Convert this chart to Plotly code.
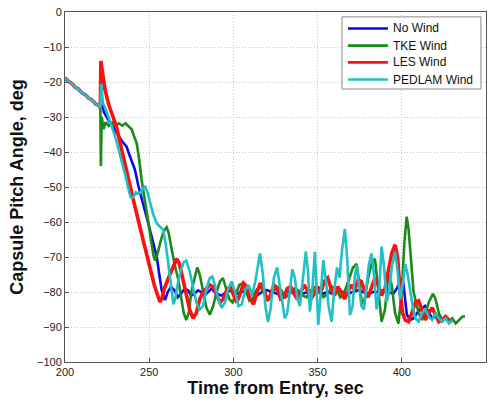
import plotly.graph_objects as go

# Shared entry segment (all four runs coincide before the winds diverge)
entry_t = [200, 202, 204, 206, 208, 210, 212, 214, 216, 218, 220, 221]
entry_a = [-18.8, -19.8, -20.4, -21.5, -22.0, -23.1, -23.6, -24.6, -25.1, -26.2, -26.7, -27.3]

# No Wind
nowind_t = [222, 223, 226, 229.7, 232, 234, 236.6, 238, 240, 241.5, 243.5, 245, 247, 249, 250.5,
            252, 254.5, 256, 257.4, 259.4, 261, 263, 265, 267, 269, 271, 273, 275, 277, 279, 281,
            283, 285, 287, 290, 293, 296, 299, 302, 305, 308, 311, 314, 317, 320, 323, 326, 329,
            332, 335, 338, 341, 344, 347, 350, 353, 356, 359, 362, 365, 368, 371, 374, 377, 380,
            383, 386, 389, 392, 395, 397, 399, 400.5, 401.5, 403, 405, 407, 409, 411, 413.8, 416,
            418, 420, 422, 424, 426, 428, 430]
nowind_a = [-25, -28.5, -31, -34, -35.5, -37, -38.5, -40.5, -43, -45, -49.5, -52.5, -56, -59.5, -62.3,
            -65.5, -70, -75, -79.4, -82.3, -80, -78.5, -79.5, -81.5, -80.5, -79, -79.5, -81, -80.5,
            -79.5, -80, -81, -80, -79, -80.5, -81, -80, -79.5, -80.5, -80, -79.5, -80.5, -81, -80,
            -79.5, -80, -80.5, -81, -80, -79.5, -80, -80.5, -80, -79.5, -80, -80.5, -80, -80.5,
            -79.5, -80, -80.5, -80, -79.5, -80, -80.5, -80, -80, -79.5, -80, -80.5, -79, -77.5,
            -76, -80, -86.5, -88, -87.5, -86, -85, -84, -86, -87.5, -87, -86.5, -88, -87.5, -88,
            -88.5]

# TKE Wind
tke_t = [221.3, 221.8, 223, 224, 226, 228, 230, 232, 234, 236, 238, 239.6, 241, 242.6, 244, 245.5,
         247.5, 249.5, 251, 252.5, 253.5, 255, 256.5, 258, 259.5, 260.4, 261.5, 263, 265, 267.3,
         269, 270.5, 272, 273.5, 275, 277, 278.5, 280, 282, 284, 286, 288, 290, 292, 293.8, 295.5,
         297.5, 299.5, 301.5, 303.5, 305.5, 307.5, 309.5, 311.5, 313.5, 316, 318.5, 321, 323.5,
         326, 328.5, 331, 333.5, 336, 338.5, 341, 343.5, 346, 348.5, 351, 353.5, 356, 358.5, 361,
         363.5, 366, 368.5, 371, 373.2, 375, 376.5, 378, 380, 382, 384, 386, 388, 390, 392, 394,
         396, 398, 400, 401.5, 402.9, 404, 405.5, 407, 408.5, 410, 412, 414, 416, 418.5, 420, 422,
         424, 426, 428, 430, 432, 434, 436, 437.5]
tke_a = [-44, -30, -33.5, -31.5, -32.5, -31.5, -32.5, -31.8, -32.5, -31.8, -32.8, -33.5, -35.5,
         -37.5, -42, -48, -54, -60.4, -65, -69.5, -71, -69, -66, -63.5, -62, -61.5, -63, -67, -72,
         -76.5, -82, -86, -88, -86, -80, -75.5, -73, -75, -80, -84.5, -86.5, -84, -80, -77, -76,
         -78.5, -82, -83, -80.5, -78, -77.5, -80, -82.5, -82, -79.5, -78.5, -80.5, -82, -80, -78.5,
         -79.5, -81.5, -80.5, -79, -79.5, -81, -81.5, -79.5, -78.5, -80, -81.5, -80.5, -78.5, -79,
         -81.5, -80, -76.5, -73, -72, -78, -83.5, -82, -76, -72, -70.5, -79, -88.5, -85, -75, -78,
         -86, -89, -80, -66, -58.5, -62, -72, -80, -83, -86, -88, -86, -83, -80.5, -82, -86, -88,
         -87, -88.5, -87.5, -89, -88, -87, -87]

# LES Wind
les_t = [221.3, 222, 222.6, 223.8, 226, 228, 230.7, 233, 235.5, 238.6, 241, 243.5, 246, 248.5,
         251, 253, 255.4, 256.4, 257.5, 259, 261, 263.3, 265, 266.3, 268, 270, 272, 274, 276, 278,
         280, 282, 284, 286, 288, 290, 292, 294, 296, 298, 300, 302, 304, 306, 308, 310, 312, 314,
         316, 318, 320, 322, 324, 326, 328, 330, 332, 334, 336, 338, 340, 342, 344, 346, 348, 350,
         352, 354, 356, 358, 360, 362, 364, 366, 368, 370, 372, 374, 376, 378, 380, 382, 384, 386,
         388, 390, 392, 394, 396, 397.5, 399, 400.5, 402, 404, 406, 408, 410, 412, 414, 416, 418,
         420, 422, 424, 426, 428, 430]
les_a = [-14, -16, -18.5, -22.3, -26.5, -29.5, -33, -38, -43.5, -50, -54.5, -59.5, -64.5, -69.5,
         -74, -78, -81.5, -82.8, -82, -79, -76.5, -73.7, -71.5, -70.5, -72, -76, -81, -85, -87.5,
         -86, -82, -80, -79, -78, -78.5, -81, -83, -82, -79.5, -78.5, -81, -83, -80.5, -77.5,
         -78.5, -82, -83.5, -80, -77.5, -79, -82.5, -81, -78, -79, -82, -81.5, -79, -78.5, -80.5,
         -82, -80, -78, -79.5, -82, -80.5, -78.5, -80, -77, -76, -79, -81, -78.5, -80, -82, -80,
         -78, -79.5, -76.5, -77, -80, -81.5, -79, -76, -78, -81, -79, -74, -69, -66.5, -70, -80,
         -86, -88, -88.5, -86, -83, -82.5, -85, -88, -86, -84.5, -86.5, -88.5, -88, -87, -88,
         -88.5]

# PEDLAM Wind
pedlam_t = [221.5, 222.5, 224, 226, 228, 230, 232, 234, 236, 237.6, 239, 240.6, 242, 244, 246,
            247.5, 249, 251, 252.5, 254.5, 256.5, 258.4, 260, 261.5, 262.4, 263.5, 264.3, 265.5,
            267, 269, 270.5, 272, 274, 276, 278, 280, 282, 284, 286, 287.5, 289, 291, 293, 295,
            297, 299, 301, 303, 305, 307, 309, 311, 313, 315.8, 317.5, 319, 320.5, 322, 324,
            325.9, 327.5, 329, 330.5, 332, 333.5, 335, 336.5, 338, 339.5, 341, 343, 344.3, 345.4,
            346.8, 348.4, 349.3, 350.4, 351.8, 353.4, 355, 356.5, 358.3, 359.8, 361.5, 363, 364.5,
            366.2, 367.5, 369.2, 370.8, 372, 373.2, 374.5, 376, 377.5, 379, 380.5, 382, 383.5,
            385, 386.5, 388, 389.5, 391, 392.5, 394, 396, 397.5, 399, 400.5, 402, 403.5, 405,
            406.8, 408, 410, 412, 414, 416, 418, 420, 422, 424, 426, 428, 430]
pedlam_a = [-20.5, -26, -27.5, -30, -33, -36, -39.5, -43, -47, -50.5, -53, -53, -51.5, -52, -50.5,
            -49.7, -51.5, -55, -58, -60.4, -61.5, -62.3, -67, -72, -75.6, -80, -83.5, -82, -77.5,
            -73.5, -71.5, -71, -74, -79, -83, -85, -84, -79, -76, -75.6, -78, -82, -84.5, -83,
            -79, -77, -80, -84, -83.5, -79.5, -78, -81, -77, -69, -75, -84, -88.6, -85, -76, -73,
            -78, -84, -87.5, -86, -79, -73.5, -76, -82, -84, -78, -68.5, -74, -85.6, -80, -68.5,
            -78, -89.4, -81, -70.9, -77, -84, -88.5, -80, -73, -76, -68, -62, -70, -86.6, -84,
            -76, -72.3, -78, -84, -85, -78, -72, -69, -75, -85, -80, -67, -73, -82.8, -80, -73,
            -68.5, -74, -82, -78, -72, -75, -80, -85, -87.5, -88.5, -86, -85, -87, -88, -86,
            -87.5, -88.5, -87.5, -89, -88]

series = [
    ("No Wind", nowind_t, nowind_a, "#0a0af0", 2.6),
    ("TKE Wind", tke_t, tke_a, "#1a8a1a", 2.6),
    ("LES Wind", les_t, les_a, "#ff1010", 3.6),
    ("PEDLAM Wind", pedlam_t, pedlam_a, "#22c0c6", 2.6),
]

fig = go.Figure()
for name, t, a, color, width in series:
    fig.add_trace(go.Scatter(
        x=entry_t + t, y=entry_a + a, mode="lines", name=name,
        line=dict(color=color, width=width), showlegend=False,
    ))

font_family = "Liberation Sans, Arial, sans-serif"

# Compact boxed legend in the upper-right corner of the axes (paper coordinates)
box_x0, box_x1, box_y0, box_y1 = 0.658, 0.988, 0.780, 0.986
row_y = [0.953, 0.904, 0.856, 0.807]
fig.add_shape(type="rect", xref="paper", yref="paper",
              x0=box_x0, x1=box_x1, y0=box_y0, y1=box_y1,
              line=dict(color="#888888", width=1), fillcolor="white", layer="above")
for (name, _, _, color, _), yy in zip(series, row_y):
    fig.add_shape(type="line", xref="paper", yref="paper",
                  x0=0.672, x1=0.767, y0=yy, y1=yy,
                  line=dict(color=color, width=2.6), layer="above")
    fig.add_annotation(xref="paper", yref="paper", x=0.774, y=yy, text=name,
                       showarrow=False, xanchor="left", yanchor="middle",
                       font=dict(family=font_family, size=12, color="#111111"))

axis_common = dict(
    showline=True, mirror=True, linecolor="#555555", linewidth=1,
    ticks="inside", ticklen=4, tickcolor="#555555",
    showgrid=True, gridcolor="#c4c4c4", griddash="1px,2px", gridwidth=1,
    zeroline=False, automargin=False,
    tickfont=dict(family=font_family, size=11, color="#222222"),
)

fig.update_layout(
    width=495, height=408,
    margin=dict(l=65, r=9, t=12, b=46),
    paper_bgcolor="white", plot_bgcolor="white",
    font=dict(family=font_family, color="#111111"),
    xaxis=dict(
        range=[200, 450], tickvals=[200, 250, 300, 350, 400, 450],
        title=dict(text="<b>Time from Entry, sec</b>", standoff=4,
                   font=dict(family=font_family, size=18, color="#111111")),
        **axis_common,
    ),
    yaxis=dict(
        range=[-100, 0], tickvals=list(range(-100, 1, 10)),
        title=dict(text="<b>Capsule Pitch Angle, deg</b>", standoff=8,
                   font=dict(family=font_family, size=18, color="#111111")),
        **axis_common,
    ),
    showlegend=False,
)

fig.write_html("out.html")
